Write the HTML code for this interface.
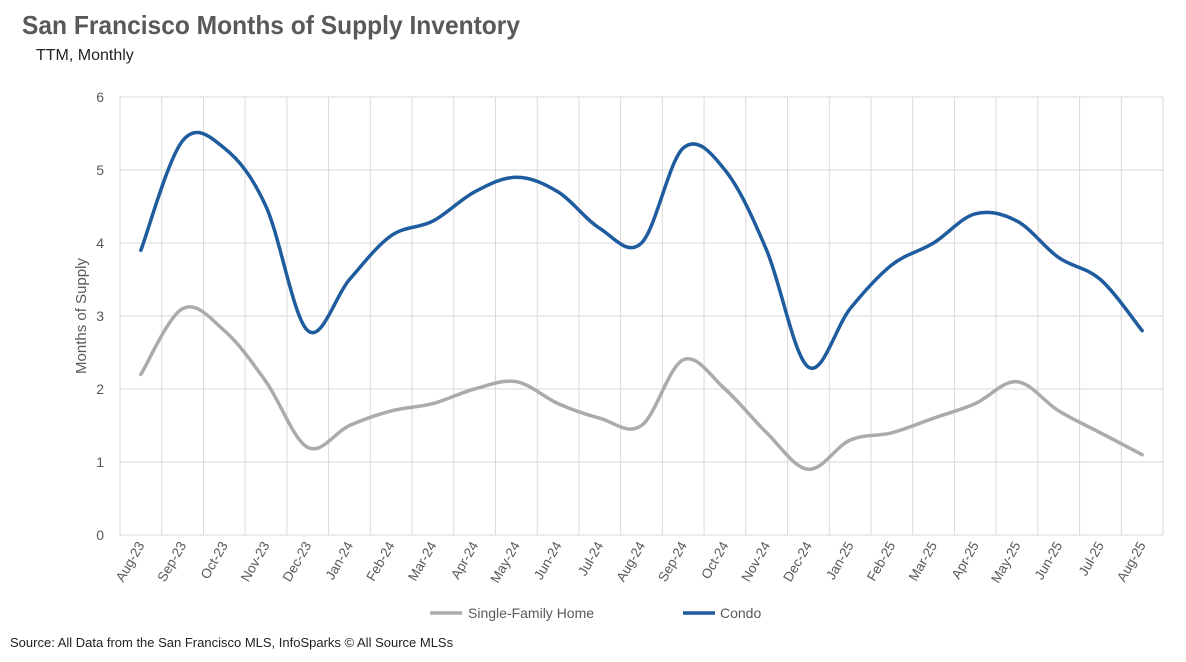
<!DOCTYPE html>
<html><head><meta charset="utf-8">
<style>
body{margin:0;background:#fff;font-family:"Liberation Sans",sans-serif;}
#wrap{position:relative;width:1186px;height:662px;overflow:hidden;}
</style></head>
<body>
<div id="wrap">
<svg id="chart" width="1186" height="662">
<text x="22" y="34" font-size="26" font-weight="bold" fill="#595959" textLength="498" lengthAdjust="spacingAndGlyphs">San Francisco Months of Supply Inventory</text>
<text x="36" y="60" font-size="16" fill="#222">TTM, Monthly</text>
<text transform="translate(86,316) rotate(-90)" text-anchor="middle" font-size="15" fill="#595959">Months of Supply</text>
<g id="grid"></g><g id="series"></g><g id="labels"></g>
<g>
<line x1="430" y1="613" x2="462" y2="613" stroke="#ababab" stroke-width="3.5"/>
<text x="468" y="618" font-size="14" fill="#595959">Single-Family Home</text>
<line x1="683" y1="613" x2="715" y2="613" stroke="#1f5c9e" stroke-width="3.5"/>
<text x="720" y="618" font-size="14" fill="#595959">Condo</text>
</g>
<text x="10" y="647" font-size="13" fill="#222">Source: All Data from the San Francisco MLS, InfoSparks © All Source MLSs</text>
</svg>
</div>
<script>
const categories=["Aug-23","Sep-23","Oct-23","Nov-23","Dec-23","Jan-24","Feb-24","Mar-24","Apr-24","May-24","Jun-24","Jul-24","Aug-24","Sep-24","Oct-24","Nov-24","Dec-24","Jan-25","Feb-25","Mar-25","Apr-25","May-25","Jun-25","Jul-25","Aug-25"];
const condoValues=[3.9,5.4,5.3,4.5,2.8,3.5,4.1,4.3,4.7,4.9,4.7,4.2,4.0,5.3,5.0,3.9,2.3,3.1,3.7,4.0,4.4,4.3,3.8,3.5,2.8];
const sfhValues=[2.2,3.1,2.8,2.1,1.2,1.5,1.7,1.8,2.0,2.1,1.8,1.6,1.5,2.4,2.0,1.4,0.9,1.3,1.4,1.6,1.8,2.1,1.7,1.4,1.1];
const yTicks=[0,1,2,3,4,5,6];
const L=120,R=1163,T=97,B=535,yMax=6;
const step=(R-L)/categories.length;
const xs=i=>L+step*(i+0.5);
const ys=v=>B-(v/yMax)*(B-T);
const NS="http://www.w3.org/2000/svg";
const grid=document.getElementById('grid'),ser=document.getElementById('series'),lab=document.getElementById('labels');
function mk(tag,attrs,parent){const e=document.createElementNS(NS,tag);for(const k in attrs)e.setAttribute(k,attrs[k]);parent.appendChild(e);return e;}
yTicks.forEach(t=>{
 const l=mk('line',{x1:L,x2:R,y1:ys(t),y2:ys(t),stroke:'#d9d9d9','stroke-width':1},grid);
 
 
 const tx=mk('text',{x:104,y:ys(t)+5,'text-anchor':'end','font-size':14,fill:'#595959'},lab);
 tx.textContent=t;
 
 
});
for(let i=0;i<=categories.length;i++){
 const l=mk('line',{x1:L+step*i,x2:L+step*i,y1:T,y2:B,stroke:'#d9d9d9','stroke-width':1},grid);
 
 
}
categories.forEach((c,i)=>{
 const x=xs(i)+4,y=B+10;
 const tx=mk('text',{x:x,y:y,'text-anchor':'end','font-size':13.5,fill:'#595959',transform:`rotate(-60 ${x} ${y})`},lab);
 tx.textContent=c;
 
 
});
function smooth(vals){
 const p=vals.map((v,i)=>[xs(i),ys(v)]);const t=0.17;
 let d=`M${p[0][0]},${p[0][1]}`;
 for(let i=0;i<p.length-1;i++){
  const p0=p[i-1]||p[i],p1=p[i],p2=p[i+1],p3=p[i+2]||p2;
  const c1=[p1[0]+(p2[0]-p0[0])*t,p1[1]+(p2[1]-p0[1])*t];
  const c2=[p2[0]-(p3[0]-p1[0])*t,p2[1]-(p3[1]-p1[1])*t];
  d+=` C${c1[0]},${c1[1]} ${c2[0]},${c2[1]} ${p2[0]},${p2[1]}`;
 }
 return d;
}
const s1=mk('path',{d:smooth(sfhValues),fill:'none',stroke:'#ababab','stroke-width':3.5,'stroke-linecap':'round'},ser);


const s2=mk('path',{d:smooth(condoValues),fill:'none',stroke:'#1f5c9e','stroke-width':3.5,'stroke-linecap':'round'},ser);


</script>
</body></html>
